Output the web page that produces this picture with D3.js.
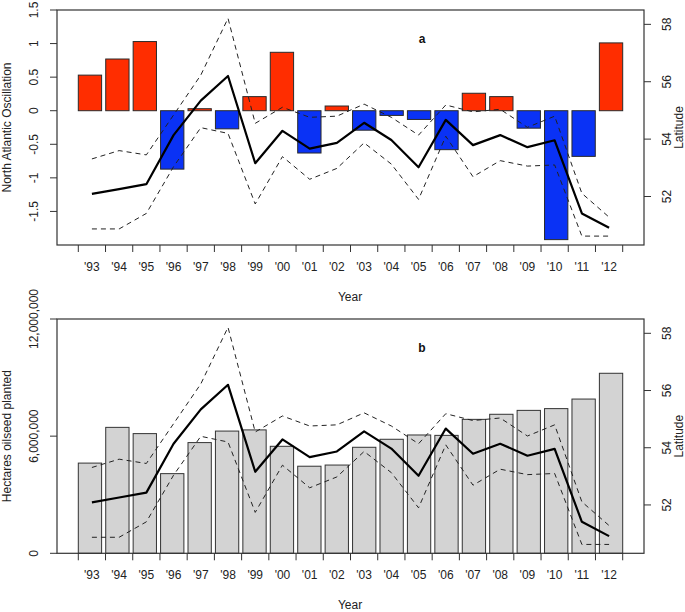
<!DOCTYPE html>
<html>
<head>
<meta charset="utf-8">
<script src="https://cdn.jsdelivr.net/npm/d3@7/dist/d3.min.js"></script>
<style>
  html, body { margin: 0; padding: 0; background: #fff; }
  svg { display: block; font-family: "Liberation Sans", Arial, sans-serif; }
</style>
</head>
<body>
<svg id="chart" width="685" height="612"></svg>
<script>
const years = ["'93","'94","'95","'96","'97","'98","'99","'00","'01","'02","'03","'04","'05","'06","'07","'08","'09","'10","'11","'12"];
const nao = [0.53, 0.77, 1.03, -0.87, 0.03, -0.27, 0.21, 0.87, -0.63, 0.07, -0.29, -0.07, -0.13, -0.58, 0.26, 0.21, -0.26, -1.92, -0.68, 1.01];
const hectares = [4620000, 6450000, 6130000, 4080000, 5670000, 6260000, 6320000, 5480000, 4460000, 4520000, 5430000, 5840000, 6060000, 6040000, 6860000, 7120000, 7320000, 7410000, 7900000, 9220000];
const latMean = [52.09, 52.26, 52.43, 54.14, 55.34, 56.2, 53.16, 54.29, 53.67, 53.87, 54.57, 53.97, 53.02, 54.67, 53.79, 54.14, 53.72, 53.96, 51.41, 50.91];
const latUpper = [53.31, 53.6, 53.45, 54.84, 56.23, 58.21, 54.55, 55.11, 54.76, 54.8, 55.22, 54.76, 54.14, 55.19, 54.95, 55.04, 54.41, 54.8, 52.11, 51.28];
const latLower = [50.87, 50.87, 51.41, 53.04, 54.4, 54.2, 51.74, 53.39, 52.6, 52.98, 53.87, 53.13, 51.9, 54.1, 52.69, 53.25, 53.06, 53.1, 50.62, 50.62];
const naoTicks = [-1.5, -1, -0.5, 0, 0.5, 1, 1.5];
const haTicks = [0, 6000000, 12000000];
const latTicks = [52, 54, 56, 58];

const svg = d3.select("#chart");
const boxL = 57, boxR = 644;
const xRange = [78.3, 622.7];
const xBand = d3.scaleBand().domain(years).range(xRange).paddingInner(0.15).paddingOuter(0);
const xLin = d3.scaleLinear().domain([0, years.length]).range(xRange);
const axisColor = "#333";

function panel(top, bottom, opts) {
  const g = svg.append("g");
  const yL = d3.scaleLinear().domain(opts.leftDomain).range([bottom, top]);
  const yR = d3.scaleLinear().domain([50.31, 58.5]).range([bottom, top]);

  // bars
  if (opts.type === "nao") {
    g.selectAll("rect.bar").data(nao).join("rect")
      .attr("x", (d, i) => xBand(years[i]))
      .attr("width", xBand.bandwidth())
      .attr("y", d => yL(Math.max(0, d)))
      .attr("height", d => Math.abs(yL(d) - yL(0)))
      .attr("fill", d => d >= 0 ? "#FF2D00" : "#0A32F5")
      .attr("stroke", "#2a2a2a").attr("stroke-width", 1);
  } else {
    g.selectAll("rect.bar").data(hectares).join("rect")
      .attr("x", (d, i) => xBand(years[i]))
      .attr("width", xBand.bandwidth())
      .attr("y", d => yL(d))
      .attr("height", d => yL(0) - yL(d))
      .attr("fill", "#D3D3D3")
      .attr("stroke", "#333").attr("stroke-width", 1);
  }

  // latitude lines
  const line = d3.line().x((d, i) => xLin(i + 0.5)).y(d => yR(d));
  g.append("path").attr("d", line(latUpper)).attr("fill", "none")
    .attr("stroke", "#222").attr("stroke-width", 1).attr("stroke-dasharray", "5,4");
  g.append("path").attr("d", line(latLower)).attr("fill", "none")
    .attr("stroke", "#222").attr("stroke-width", 1).attr("stroke-dasharray", "5,4");
  g.append("path").attr("d", line(latMean)).attr("fill", "none")
    .attr("stroke", "#000").attr("stroke-width", 2.2).attr("stroke-linejoin", "round");

  // box
  g.append("rect").attr("x", boxL).attr("y", top).attr("width", boxR - boxL).attr("height", bottom - top)
    .attr("fill", "none").attr("stroke", axisColor).attr("stroke-width", 1.2);

  // left axis
  const la = g.append("g");
  opts.leftTicks.forEach(t => {
    const y = yL(t);
    la.append("line").attr("x1", boxL - 7).attr("x2", boxL).attr("y1", y).attr("y2", y)
      .attr("stroke", axisColor).attr("stroke-width", 1);
    la.append("text").attr("transform", `translate(34,${y}) rotate(-90)`)
      .attr("text-anchor", "middle").attr("dominant-baseline", "central")
      .attr("font-size", 12).attr("fill", "#222").text(opts.fmt(t));
  });
  // right axis
  latTicks.forEach(t => {
    const y = yR(t);
    g.append("line").attr("x1", boxR).attr("x2", boxR + 7).attr("y1", y).attr("y2", y)
      .attr("stroke", axisColor).attr("stroke-width", 1);
    g.append("text").attr("transform", `translate(667,${y}) rotate(-90)`)
      .attr("text-anchor", "middle").attr("dominant-baseline", "central")
      .attr("font-size", 12).attr("fill", "#222").text(t);
  });
  // x axis ticks
  d3.range(years.length + 1).forEach(i => {
    const x = xLin(i);
    g.append("line").attr("x1", x).attr("x2", x).attr("y1", bottom).attr("y2", bottom + 7)
      .attr("stroke", axisColor).attr("stroke-width", 1);
  });
  years.forEach((yr, i) => {
    g.append("text").attr("x", xLin(i + 0.5)).attr("y", bottom + 26)
      .attr("text-anchor", "middle").attr("font-size", 12).attr("fill", "#222").text(yr);
  });
  // axis titles
  g.append("text").attr("x", 350).attr("y", bottom + 56).attr("text-anchor", "middle")
    .attr("font-size", 12).attr("fill", "#222").text("Year");
  g.append("text").attr("transform", `translate(7,${(top + bottom) / 2}) rotate(-90)`)
    .attr("text-anchor", "middle").attr("dominant-baseline", "central")
    .attr("font-size", 12).attr("fill", "#222").text(opts.leftTitle);
  g.append("text").attr("transform", `translate(679,${(top + bottom) / 2}) rotate(-90)`)
    .attr("text-anchor", "middle").attr("dominant-baseline", "central")
    .attr("font-size", 12).attr("fill", "#222").text("Latitude");
  // panel letter
  g.append("text").attr("x", 422).attr("y", top + 33).attr("text-anchor", "middle")
    .attr("font-size", 12).attr("font-weight", "bold").attr("fill", "#111").text(opts.letter);
}

panel(10, 245, {
  type: "nao", leftDomain: [-2, 1.5], leftTicks: naoTicks,
  fmt: d => String(d), leftTitle: "North Atlantic Oscillation", letter: "a"
});
panel(319, 553.3, {
  type: "ha", leftDomain: [0, 12000000], leftTicks: haTicks,
  fmt: d3.format(","), leftTitle: "Hectares oilseed planted", letter: "b"
});
</script>
</body>
</html>
